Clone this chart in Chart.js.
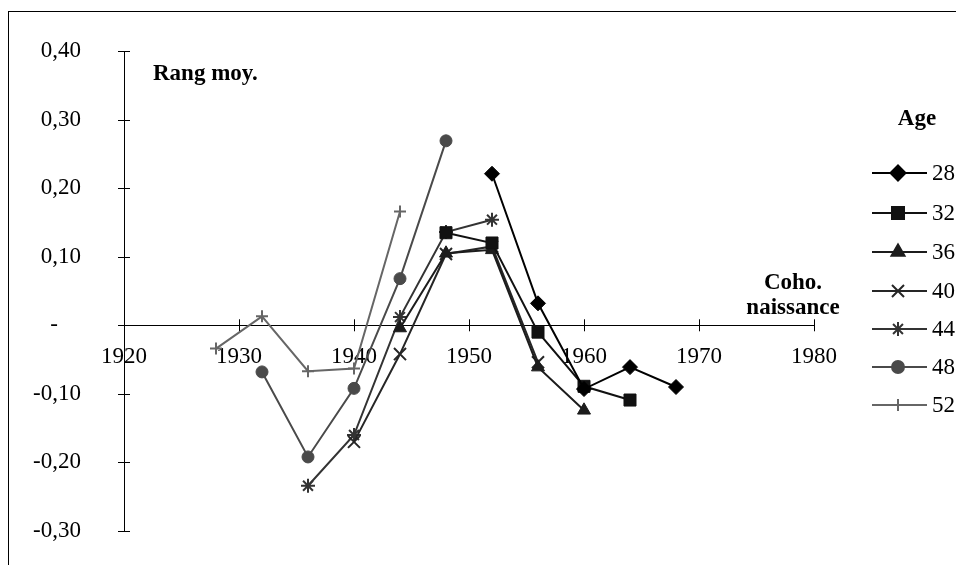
<!DOCTYPE html>
<html>
<head>
<meta charset="utf-8">
<script src="https://cdn.jsdelivr.net/npm/chart.js"></script>
<style>
  html, body { margin: 0; padding: 0; background: #fff; overflow: hidden; }
  #wrap { position: relative; width: 956px; height: 565px; }
</style>
</head>
<body>
<div id="wrap"><canvas id="chart"></canvas></div>
<script>
// birth cohorts (x) and mean rank (y) for each age
const ages = ['28', '32', '36', '40', '44', '48', '52'];

const years28 = [1952, 1956, 1960, 1964, 1968];
const rank28  = [0.221, 0.032, -0.093, -0.061, -0.090];
const years32 = [1948, 1952, 1956, 1960, 1964];
const rank32  = [0.135, 0.120, -0.010, -0.089, -0.109];
const years36 = [1944, 1948, 1952, 1956, 1960];
const rank36  = [-0.004, 0.105, 0.110, -0.061, -0.124];
const years40 = [1940, 1944, 1948, 1952, 1956];
const rank40  = [-0.170, -0.042, 0.104, 0.115, -0.054];
const years44 = [1936, 1940, 1944, 1948, 1952];
const rank44  = [-0.234, -0.160, 0.012, 0.136, 0.154];
const years48 = [1932, 1936, 1940, 1944, 1948];
const rank48  = [-0.068, -0.192, -0.092, 0.068, 0.269];
const years52 = [1928, 1932, 1936, 1940, 1944];
const rank52  = [-0.034, 0.013, -0.067, -0.063, 0.166];

const allYears = [years28, years32, years36, years40, years44, years48, years52];
const allRanks = [rank28, rank32, rank36, rank40, rank44, rank48, rank52];

// marker look per series
const colors  = ['#000000', '#111111', '#1c1c1c', '#262626', '#333333', '#4a4a4a', '#666666'];
const markers = ['rectRot', 'rect', 'triangle', 'crossRot', 'star', 'circle', 'cross'];
const radii   = [7.5, 8.5, 7.5, 8.5, 7, 6, 6];
const strokes = [1, 1, 1, 2, 2, 1, 2];

const serif = '"Liberation Serif", "Times New Roman", serif';

function xy(xs, ys) {
  return xs.map((x, i) => ({ x: x, y: ys[i] }));
}

const datasets = ages.map((a, i) => ({
  label: a,
  data: xy(allYears[i], allRanks[i]),
  borderColor: colors[i],
  backgroundColor: colors[i],
  borderWidth: 2,
  pointStyle: markers[i],
  pointRadius: radii[i],
  pointHoverRadius: radii[i],
  pointBackgroundColor: colors[i],
  pointBorderColor: colors[i],
  pointBorderWidth: strokes[i],
  tension: 0,
  clip: false
}));

// axes with crossing tick marks, frame, labels and legend
const decor = {
  id: 'decor',
  beforeDatasetsDraw(chart) {
    const ctx = chart.ctx;
    const xs = chart.scales.x, ys = chart.scales.y;
    const x0 = xs.getPixelForValue(1920), x1 = xs.getPixelForValue(1980);
    const y0 = ys.getPixelForValue(0);
    const yTop = ys.getPixelForValue(0.4), yBot = ys.getPixelForValue(-0.3);
    ctx.save();
    ctx.strokeStyle = '#000';
    ctx.lineWidth = 1;
    // frame
    ctx.strokeRect(8.5, 11.5, 1100, 700);
    ctx.beginPath();
    ctx.moveTo(Math.round(x0) + 0.5, yTop);
    ctx.lineTo(Math.round(x0) + 0.5, yBot);
    ctx.moveTo(x0 - 6, Math.round(y0) + 0.5);
    ctx.lineTo(x1, Math.round(y0) + 0.5);
    ys.ticks.forEach(t => {
      const p = Math.round(ys.getPixelForValue(t.value)) + 0.5;
      ctx.moveTo(x0 - 6, p); ctx.lineTo(x0 + 6, p);
    });
    xs.ticks.forEach(t => {
      const p = Math.round(xs.getPixelForValue(t.value)) + 0.5;
      ctx.moveTo(p, y0 - 6); ctx.lineTo(p, y0 + 6);
    });
    ctx.stroke();
    ctx.restore();
  },
  afterDraw(chart) {
    const ctx = chart.ctx;
    ctx.save();
    ctx.fillStyle = '#000';
    ctx.font = 'bold 23px ' + serif;
    ctx.textBaseline = 'alphabetic';
    ctx.textAlign = 'left';
    ctx.fillText('Rang moy.', 153, 80);
    ctx.textAlign = 'center';
    ctx.fillText('Age', 917, 125);
    ctx.fillText('Coho.', 793, 289);
    ctx.fillText('naissance', 793, 314);

    // legend
    const rowY = [173, 213, 252, 291, 329, 367, 405];
    chart.data.datasets.forEach((ds, i) => {
      const y = rowY[i];
      ctx.strokeStyle = ds.borderColor;
      ctx.fillStyle = ds.borderColor;
      ctx.lineWidth = 2;
      ctx.beginPath();
      ctx.moveTo(872, y);
      ctx.lineTo(927, y);
      ctx.stroke();
      if (Chart.helpers && Chart.helpers.drawPoint) {
        Chart.helpers.drawPoint(ctx, {
          pointStyle: ds.pointStyle, radius: ds.pointRadius,
          rotation: 0, borderWidth: ds.pointBorderWidth
        }, 898, y);
      }
      ctx.fillStyle = '#000';
      ctx.font = '23px ' + serif;
      ctx.textAlign = 'left';
      ctx.textBaseline = 'middle';
      ctx.fillText(ds.label, 932, y + 1);
    });
    ctx.restore();
  }
};

new Chart(document.getElementById('chart'), {
  type: 'line',
  data: { datasets: datasets },
  plugins: [decor],
  options: {
    responsive: true,
    maintainAspectRatio: false,
    animation: false,
    layout: { padding: { left: 0, top: 51, right: 142, bottom: 34 } },
    plugins: { legend: { display: false }, tooltip: { enabled: false } },
    scales: {
      x: {
        type: 'linear',
        position: { y: 0 },
        min: 1920, max: 1980,
        grid: { display: false, drawTicks: false },
        border: { display: false },
        ticks: {
          stepSize: 10,
          padding: 18,
          color: '#000',
          font: { family: serif, size: 23 },
          maxRotation: 0,
          callback: v => String(v)
        }
      },
      y: {
        type: 'linear',
        position: 'left',
        min: -0.3, max: 0.4,
        grid: { display: false, drawTicks: false },
        border: { display: false },
        afterFit: s => { s.width = 124; s.paddingTop = 0; s.paddingBottom = 0; },
        ticks: {
          stepSize: 0.1,
          padding: 43,
          color: '#000',
          font: { family: serif, size: 23 },
          callback: v => Math.abs(v) < 1e-9 ? '-    ' : v.toFixed(2).replace('.', ',')
        }
      }
    }
  }
});
</script>
</body>
</html>
